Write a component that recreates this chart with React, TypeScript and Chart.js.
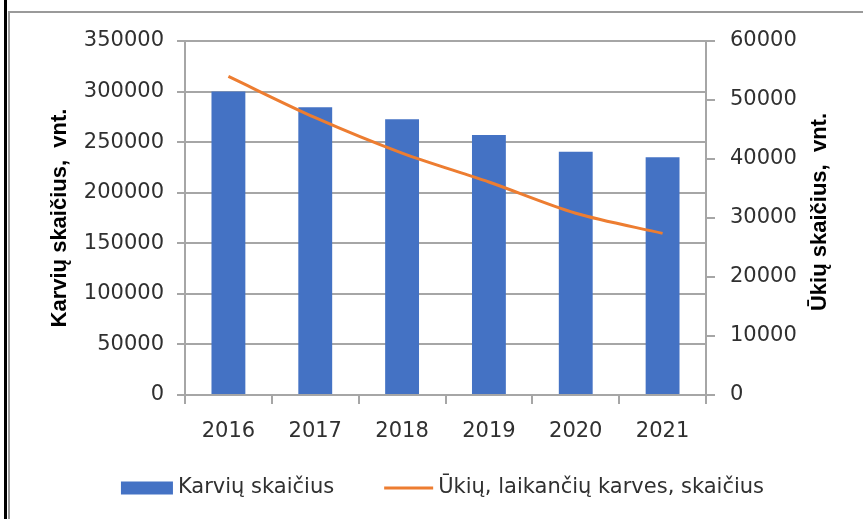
import React, { useEffect, useRef } from "react";
import { Chart, registerables } from "chart.js";

Chart.register(...registerables);

const years = ["2016", "2017", "2018", "2019", "2020", "2021"];
const cows = [300000, 284500, 272600, 257000, 240500, 235000];
const farms = [54000, 47000, 41000, 36100, 30800, 27400];
const cowLabel = "Karvių skaičius";
const farmLabel = "Ūkių, laikančių karves, skaičius";
const leftTitle = "Karvių skaičius,  vnt.";
const rightTitle = "Ūkių skaičius,  vnt.";

const BLUE = "#4472C4";
const ORANGE = "#ED7D31";
const GRID = "#a6a6a6";
const TEXT = "#303030";
const TICK_FONT = { family: "'DejaVu Sans'", size: 21 };
const TITLE_FONT = { family: "'Liberation Sans'", size: 22, weight: "bold" as const };

const extrasPlugin = {
  id: "extras",
  afterDraw(chart: any) {
    const ctx = chart.ctx as CanvasRenderingContext2D;
    const area = chart.chartArea;
    // right axis title (reads bottom to top)
    const r = chart.scales.y1;
    ctx.save();
    ctx.font = "bold 22px 'Liberation Sans'";
    ctx.fillStyle = "#000";
    ctx.textAlign = "center";
    ctx.textBaseline = "middle";
    ctx.translate(r.right - 2 - 13.2, (area.top + area.bottom) / 2 - 6);
    ctx.rotate(-Math.PI / 2);
    ctx.fillText(rightTitle, 0, 0);
    ctx.restore();

    // legend
    ctx.save();
    ctx.font = "21px 'DejaVu Sans'";
    ctx.textBaseline = "middle";
    ctx.textAlign = "left";
    const t1 = ctx.measureText(cowLabel).width;
    const t2 = ctx.measureText(farmLabel).width;
    const total = 52 + 5 + t1 + 50 + 49 + 5 + t2;
    let x = (area.left + area.right) / 2 - total / 2 - 3;
    const y = chart.scales.x.bottom + 43;
    ctx.fillStyle = BLUE;
    ctx.fillRect(x, y - 6.5, 52, 13);
    x += 57;
    ctx.fillStyle = TEXT;
    ctx.fillText(cowLabel, x, y);
    x += t1 + 50;
    ctx.strokeStyle = ORANGE;
    ctx.lineWidth = 3;
    ctx.beginPath();
    ctx.moveTo(x, y);
    ctx.lineTo(x + 49, y);
    ctx.stroke();
    x += 54;
    ctx.fillText(farmLabel, x, y);
    ctx.restore();
  },
};

export default function App() {
  const ref = useRef<HTMLCanvasElement>(null);
  useEffect(() => {
    const canvas = ref.current;
    if (!canvas) return;
    const chart = new Chart(canvas, {
      type: "bar",
      data: {
        labels: years,
        datasets: [
          {
            type: "bar",
            label: cowLabel,
            data: cows,
            yAxisID: "y",
            backgroundColor: BLUE,
            barPercentage: 0.39,
            categoryPercentage: 1,
            order: 1,
          },
          {
            type: "line",
            label: farmLabel,
            data: farms,
            yAxisID: "y1",
            borderColor: ORANGE,
            backgroundColor: ORANGE,
            borderWidth: 3,
            pointRadius: 0,
            tension: 0.3,
            order: 0,
          } as any,
        ],
      },
      options: {
        responsive: false,
        animation: false,
        devicePixelRatio: 1,
        layout: { padding: { left: 45, right: 28, top: 41, bottom: 74 } },
        plugins: { legend: { display: false }, tooltip: { enabled: false } },
        scales: {
          x: {
            offset: true,
            grid: { offset: true, drawOnChartArea: false, drawTicks: true, tickLength: 9, color: GRID, lineWidth: 2 },
            border: { display: true, color: GRID, width: 2 },
            ticks: { font: TICK_FONT, color: TEXT, padding: 15, maxRotation: 0 },
            afterFit: (s: any) => { s.height = 50; },
          },
          y: {
            position: "left",
            min: 0,
            max: 350000,
            ticks: { stepSize: 50000, font: TICK_FONT, color: TEXT, padding: 13, callback: (v: any) => String(v) },
            grid: { color: GRID, lineWidth: 2, tickLength: 8 },
            border: { color: GRID, width: 2 },
            title: { display: true, text: leftTitle, font: TITLE_FONT, color: "#000", padding: { top: 2, bottom: 0 } },
            afterFit: (s: any) => { s.width = 140; },
          },
          y1: {
            position: "right",
            min: 0,
            max: 60000,
            ticks: { stepSize: 10000, font: TICK_FONT, color: TEXT, padding: 15, callback: (v: any) => String(v) },
            grid: { drawOnChartArea: false, tickLength: 9, color: GRID, lineWidth: 2 },
            border: { color: GRID, width: 2 },
            afterFit: (s: any) => { s.width = 129; },
          },
        },
      },
      plugins: [extrasPlugin],
    });
    return () => chart.destroy();
  }, []);

  return (
    <div style={{ position: "fixed", left: 0, top: 0, width: 863, height: 519, background: "#fff", overflow: "hidden" }}>
      <canvas ref={ref} width={863} height={519} style={{ position: "absolute", left: 0, top: 0, width: 863, height: 519 }} />
      <div style={{ position: "absolute", left: 4, top: 0, width: 3, height: 519, background: "#000" }} />
      <div style={{ position: "absolute", left: 8, top: 11, width: 863, height: 519, borderTop: "2px solid #9a9a9a", borderLeft: "2px solid #9a9a9a", boxSizing: "border-box", pointerEvents: "none" }} />
    </div>
  );
}
